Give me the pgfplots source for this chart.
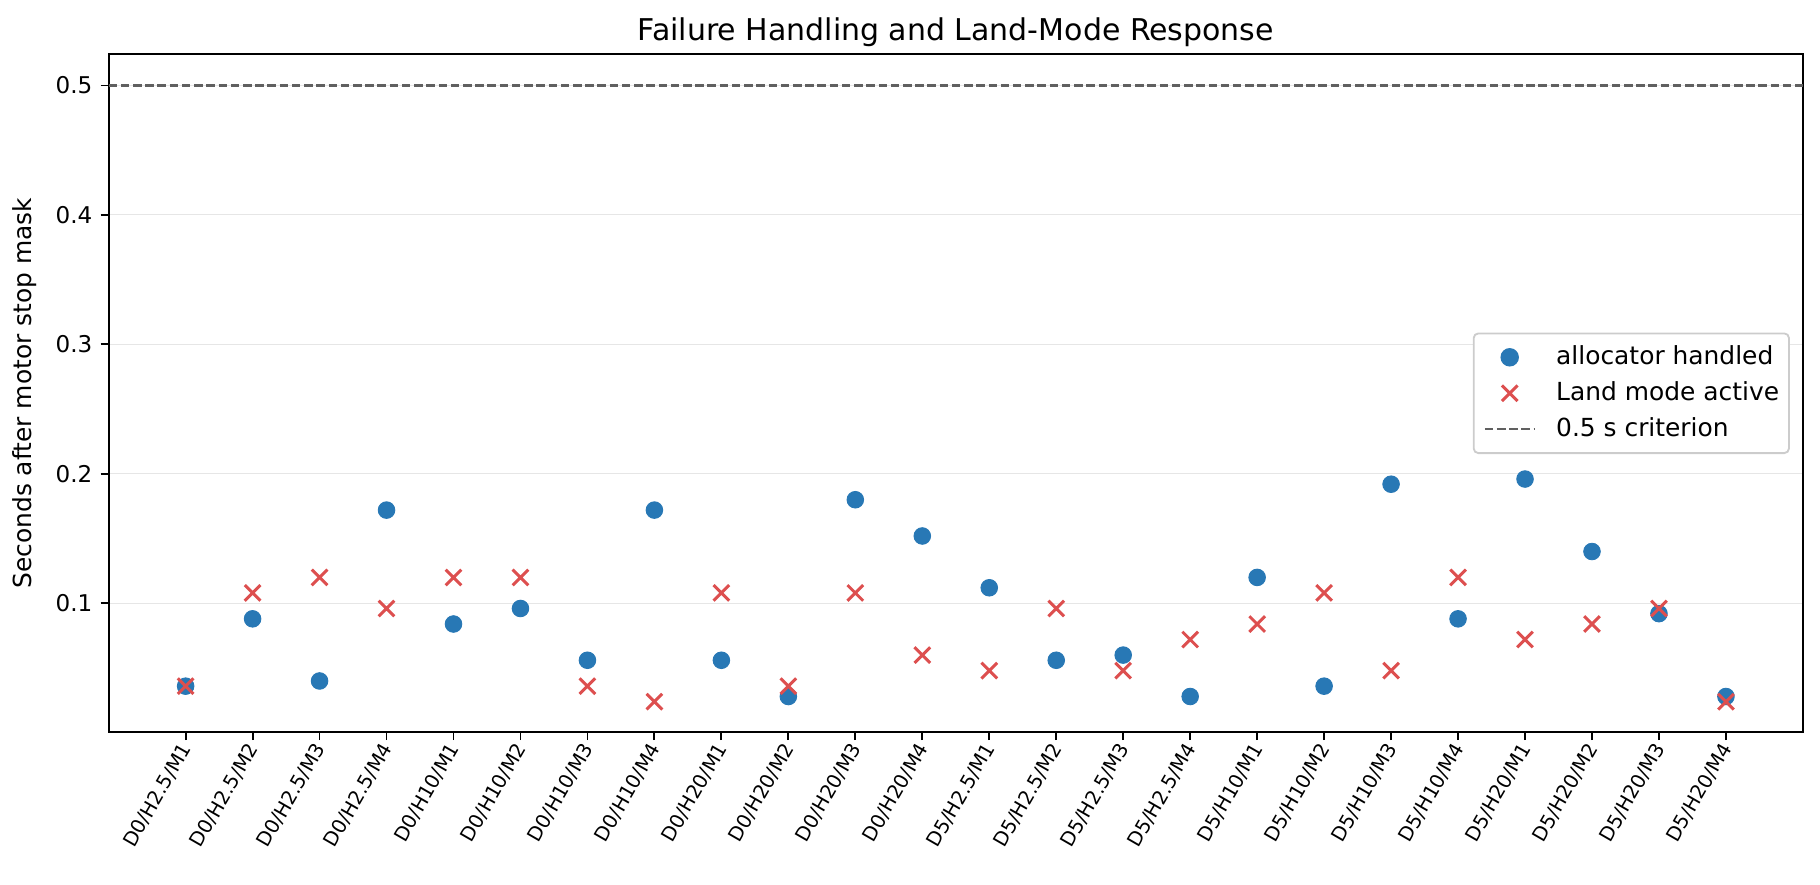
\documentclass[border=0pt]{standalone}
\usepackage{fontspec}
\setmainfont{DejaVu Sans}
\usepackage{pgfplots}
\pgfplotsset{compat=1.18}
\definecolor{cblue}{HTML}{2878B5}
\definecolor{cred}{HTML}{DD4F4F}
\definecolor{cdash}{HTML}{606060}
\definecolor{cgrid}{HTML}{E6E6E6}
\definecolor{clegend}{HTML}{CCCCCC}
\begin{document}
\begin{tikzpicture}
\begin{axis}[
  scale only axis, width=734.8pt, height=293.9pt,
  xmin=-1.15, xmax=24.15, ymin=0.0005, ymax=0.524,
  xtick={0,...,23},
  xticklabels={D0/H2.5/M1,D0/H2.5/M2,D0/H2.5/M3,D0/H2.5/M4,D0/H10/M1,D0/H10/M2,D0/H10/M3,D0/H10/M4,D0/H20/M1,D0/H20/M2,D0/H20/M3,D0/H20/M4,D5/H2.5/M1,D5/H2.5/M2,D5/H2.5/M3,D5/H2.5/M4,D5/H10/M1,D5/H10/M2,D5/H10/M3,D5/H10/M4,D5/H20/M1,D5/H20/M2,D5/H20/M3,D5/H20/M4},
  ytick={0.1,0.2,0.3,0.4,0.5},
  yticklabel style={/pgf/number format/fixed, /pgf/number format/precision=1},
  /pgf/number format/assume math mode=true,
  tick pos=left,
  tick align=outside, major tick length=3.5pt,
  every tick/.style={black, line width=0.8pt},
  axis line style={line width=0.8pt},
  ymajorgrids, grid style={cgrid, line width=0.45pt},
  tick label style={font=\fontsize{10}{12}\selectfont},
  xticklabel style={font=\fontsize{8.5}{10}\selectfont, xshift=-3.3pt, yshift=2pt, rotate=60, anchor=north east, inner sep=1.5pt},
  title={Failure Handling and Land-Mode Response},
  title style={font=\fontsize{13}{15}\selectfont, at={(0.5,1)}, anchor=base},
  ylabel={Seconds after motor stop mask},
  ylabel style={font=\fontsize{10.8}{13}\selectfont, at={(axis description cs:-0.0494,0.5)}, anchor=center},
  legend style={at={(0.9923,0.5)}, anchor=east, draw=clegend, line width=0.8pt, rounded corners=2pt,
    fill=white, font=\fontsize{10.8}{13}\selectfont,
    inner xsep=4.3pt, inner ysep=5.2pt, row sep=5.3pt,
    nodes={inner sep=0pt, text height=8.1pt, text depth=2.2pt},
    /tikz/every odd column/.append style={column sep=8.7pt}},
  legend cell align=left,
  legend image code/.code={\draw[mark repeat=2,mark phase=2,#1] plot coordinates {(0cm,0cm)(0.38cm,0cm)(0.765cm,0cm)};},
]
\addplot[only marks, mark=*, mark size=3.6pt, color=cblue, mark options={draw=none, fill=cblue}] coordinates {
(0,0.036) (1,0.088) (2,0.040) (3,0.172) (4,0.084) (5,0.096) (6,0.056) (7,0.172)
(8,0.056) (9,0.028) (10,0.180) (11,0.152) (12,0.112) (13,0.056) (14,0.060) (15,0.028)
(16,0.120) (17,0.036) (18,0.192) (19,0.088) (20,0.196) (21,0.140) (22,0.092) (23,0.028)};
\addlegendentry{allocator handled}
\addplot[only marks, mark=x, mark size=4.8pt, color=cred, mark options={line width=1.3pt}] coordinates {
(0,0.036) (1,0.108) (2,0.120) (3,0.096) (4,0.120) (5,0.120) (6,0.036) (7,0.024)
(8,0.108) (9,0.036) (10,0.108) (11,0.060) (12,0.048) (13,0.096) (14,0.048) (15,0.072)
(16,0.084) (17,0.108) (18,0.048) (19,0.120) (20,0.072) (21,0.084) (22,0.096) (23,0.024)};
\addlegendentry{Land mode active}
\addplot[cdash, line width=1pt, dash pattern=on 3.7pt off 1.6pt] coordinates {(-1.15,0.5) (24.15,0.5)};
\addlegendentry{0.5 s criterion}
\end{axis}
\pgfresetboundingbox
\path[use as bounding box] ([xshift=-47.1pt,yshift=-65.9pt]current axis.south west) rectangle ([xshift=7.4pt,yshift=23.6pt]current axis.north east);
\end{tikzpicture}
\end{document}
